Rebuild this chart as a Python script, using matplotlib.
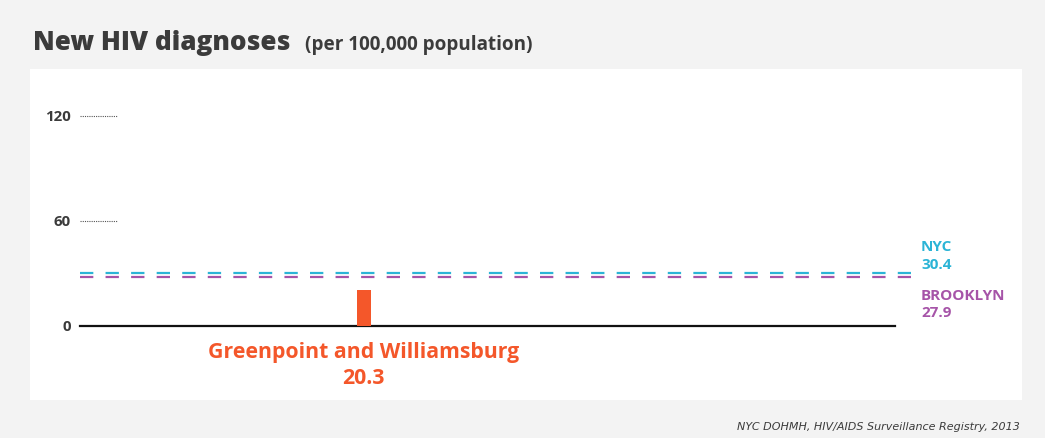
import matplotlib
matplotlib.use("Agg")
import matplotlib.pyplot as plt
from matplotlib.patches import Rectangle

# data
area_label = "Greenpoint and Williamsburg"
area_value = 20.3
area_pos = 0.348
ref_names = ["NYC", "BROOKLYN"]
ref_values = [30.4, 27.9]
ref_colors = ["#2bb4d6", "#a654a8"]
yticks = [0, 60, 120]

orange = "#f4572a"
dark = "#3b3b3b"
plt.rcParams["font.family"] = ["Open Sans", "DejaVu Sans"]

W, H = 1045, 439
fig = plt.figure(figsize=(W / 100, H / 100), dpi=100, facecolor="#f3f3f3")
fig.patches.append(Rectangle((30 / W, 1 - 401 / H), 992 / W, 331 / H,
                             transform=fig.transFigure, facecolor="white",
                             edgecolor="none", zorder=-10))

# axes spans pixel box x 80..895, y 117(120)..327(0)
ax = fig.add_axes([80 / W, 1 - 327 / H, 815 / W, 210 / H])
ax.set_xlim(0, 1)
ax.set_ylim(0, 120)
ax.axis("off")

# baseline + dotted gridlets
ax.plot([0, 1], [0, 0], color="#111111", lw=1.6, clip_on=False, zorder=3)
for v in yticks:
    if v:
        ax.plot([0, 0.045], [v, v], color="#555555", lw=0.8, ls=(0, (1, 1)),
                clip_on=False)
    ax.text(-0.011, v, str(v), ha="right", va="center", fontsize=10.8,
            fontweight="bold", color=dark)

# reference lines
for name, val, col in zip(ref_names, ref_values, ref_colors):
    ax.plot([0, 1.02], [val, val], color=col, lw=1.6, ls=(0, (6, 5.5)),
            clip_on=False, zorder=2)

ax.bar([area_pos], [area_value], width=0.017, color=orange, zorder=4)

# labels
ax.text(area_pos, -8.5, area_label, ha="center", va="top", fontsize=15.3,
        fontweight="bold", color=orange)
ax.text(area_pos, -23.5, f"{area_value:.1f}", ha="center", va="top",
        fontsize=15.3, fontweight="bold", color=orange)

lx = 1.032
ax.text(lx, 45.5, ref_names[0], ha="left", va="center", fontsize=11,
        fontweight="bold", color=ref_colors[0])
ax.text(lx, 35.5, f"{ref_values[0]:.1f}", ha="left", va="center",
        fontsize=11, fontweight="bold", color=ref_colors[0])
ax.text(lx, 18, ref_names[1], ha="left", va="center", fontsize=11,
        fontweight="bold", color=ref_colors[1])
ax.text(lx, 8, f"{ref_values[1]:.1f}", ha="left", va="center",
        fontsize=11, fontweight="bold", color=ref_colors[1])

# title
fig.text(33 / W, 1 - 50 / H, "New HIV diagnoses", fontsize=18.8,
         fontweight="heavy", color=dark, ha="left", va="baseline")
fig.text(305 / W, 1 - 50 / H, "(per 100,000 population)", fontsize=13.6,
         fontweight="bold", color=dark, ha="left", va="baseline")

fig.text(1020 / W, 1 - 430 / H, "NYC DOHMH, HIV/AIDS Surveillance Registry, 2013",
         fontsize=8, style="italic", color=dark, ha="right", va="baseline",
         family=["Liberation Sans Narrow", "DejaVu Sans"])

fig.savefig("out.png", dpi=100, facecolor=fig.get_facecolor())
